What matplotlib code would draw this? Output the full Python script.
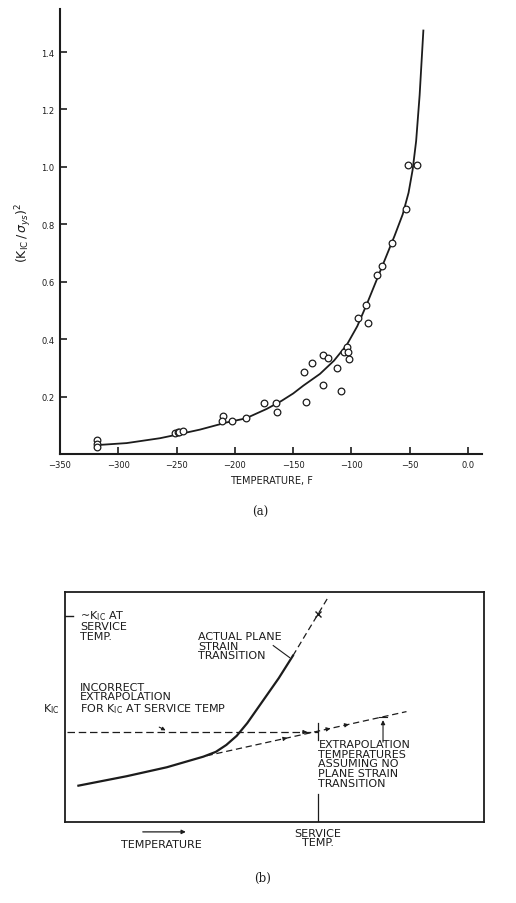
import matplotlib
matplotlib.use("Agg")
import matplotlib.pyplot as plt

plt.rcParams['mathtext.fontset'] = 'dejavusans'
ink = '#1c1c1c'

# ---- panel (a): measured points, temperature F vs (KIC/sys)^2
temp_pts = [-318.5, -318.5, -318.5, -251.3, -248.5, -247.9, -244.2,
            -209.9, -211.3, -202.7, -190.7, -175, -165, -164.1,
            -139.3, -140.7, -133.5, -124.7, -124.7, -119.8, -112.6, -109,
            -106, -104, -102.7, -102, -94, -87.5, -86,
            -78.3, -74, -65.5, -53.2, -51.5, -44]
ratio_pts = [0.049, 0.035, 0.023, 0.073, 0.075, 0.078, 0.081,
             0.131, 0.114, 0.116, 0.124, 0.177, 0.177, 0.147,
             0.182, 0.287, 0.317, 0.241, 0.345, 0.334, 0.298, 0.22,
             0.356, 0.374, 0.356, 0.331, 0.473, 0.52, 0.456,
             0.623, 0.656, 0.735, 0.853, 1.008, 1.008]

# fitted curve
temp_fit = [-318.5, -292.8, -264.2, -251.3, -229.9, -207, -190.7, -172.7,
            -160, -149.9, -141.3, -127, -115, -104, -95, -87, -79,
            -71, -63, -56, -51, -47.5, -44.5, -41.5, -38.3]
ratio_fit = [0.031, 0.038, 0.055, 0.066, 0.085, 0.110, 0.124, 0.157,
             0.185, 0.211, 0.238, 0.279, 0.325, 0.38, 0.445, 0.52, 0.6,
             0.68, 0.76, 0.835, 0.91, 0.99, 1.09, 1.25, 1.475]

xticks_a = [-350, -300, -250, -200, -150, -100, -50, 0]
xlabels_a = ['\u2212350', '\u2212300', '\u2212250', '\u2212200', '\u2212150',
             '\u2212100', '\u221250', '0.0']
yticks_a = [0.2, 0.4, 0.6, 0.8, 1.0, 1.2, 1.4]
ylabels_a = ['0.2', '0.4', '0.6', '0.8', '1.0', '1.2', '1.4']

# ---- panel (b): schematic curves (box units 0..100)
actual_u = [3.2, 14.7, 24.3, 33.0, 36.0, 38.5, 41.0, 43.5, 46.0, 48.5, 51.0, 54.4]
actual_v = [15.8, 19.9, 23.8, 28.4, 30.5, 33.5, 37.5, 43.0, 49.5, 56.0, 62.5, 72.3]
actual_ext_u = [54.4, 57.6, 60.4, 62.8]
actual_ext_v = [72.3, 82.0, 90.4, 97.7]
extrap_u = [33.8, 81.5]
extrap_v = [28.8, 48.0]
incorrect_u = [0.4, 60.4]
incorrect_v = [39.1, 39.1]
service_u = 60.4
kic_service_v = 90.4

fig = plt.figure(figsize=(5.16, 9.04), dpi=100)

# ================= (a)
ax = fig.add_axes([60 / 516, 1 - 455 / 904, 422 / 516, 445 / 904])
ax.plot(temp_fit, ratio_fit, color=ink, lw=1.3, zorder=2)
ax.plot(temp_pts, ratio_pts, 'o', ms=4.8, mfc='white', mec=ink, mew=0.9, zorder=3)
ax.set_xlim(-350, 12)
ax.set_ylim(0, 1.55)
for s in ['top', 'right']:
    ax.spines[s].set_visible(False)
for s in ['left', 'bottom']:
    ax.spines[s].set_linewidth(1.5)
    ax.spines[s].set_color(ink)
ax.set_xticks(xticks_a)
ax.set_xticklabels(xlabels_a)
ax.set_yticks(yticks_a)
ax.set_yticklabels(ylabels_a)
ax.tick_params(direction='in', length=5, width=1.2, color=ink,
               labelsize=6, labelcolor=ink, pad=4)
ax.set_xlabel('TEMPERATURE, F', fontsize=7, color=ink, labelpad=5)
ax.set_ylabel(r'$(\mathrm{K_{IC}}\,/\,\sigma_{ys})^2$', fontsize=9, color=ink, labelpad=5)
fig.text(260 / 516, 1 - 512 / 904, '(a)', ha='center', va='center',
         fontsize=8.5, family='DejaVu Serif', color=ink)

# ================= (b)
bx = fig.add_axes([65 / 516, 1 - 823 / 904, 419 / 516, 230 / 904])
bx.set_xlim(0, 100)
bx.set_ylim(0, 100)
bx.set_xticks([])
bx.set_yticks([])
for s in bx.spines.values():
    s.set_linewidth(1.3)
    s.set_color(ink)

bx.plot(actual_u, actual_v, color=ink, lw=1.6)
bx.plot(actual_ext_u, actual_ext_v, color=ink, lw=0.9, ls=(0, (5, 3)))
bx.plot(extrap_u, extrap_v, color=ink, lw=0.9, ls=(0, (5, 3)))
bx.plot(incorrect_u, incorrect_v, color=ink, lw=0.9, ls=(0, (6, 3)))
bx.plot([service_u], [kic_service_v], 'x', color=ink, ms=5, mew=1.0)
# service temperature marks
bx.plot([service_u, service_u], [0, 12], color=ink, lw=0.9)
bx.plot([service_u, service_u], [35.5, 43], color=ink, lw=0.9)
bx.plot([0, 2], [kic_service_v - 1, kic_service_v - 1], color=ink, lw=1.0)

# small arrowheads along the dashed lines
arr = dict(arrowstyle='-|>', mutation_scale=6, lw=0.7, color=ink)
slope = (extrap_v[1] - extrap_v[0]) / (extrap_u[1] - extrap_u[0])
for ua in [53.7, 64.0, 68.4]:
    va_ = extrap_v[0] + slope * (ua - extrap_u[0])
    bx.annotate('', xy=(ua, va_), xytext=(ua - 2, va_ - 2 * slope), arrowprops=arr)
bx.annotate('', xy=(58.5, 39.1), xytext=(56.0, 39.1), arrowprops=arr)

# vertical arrow to the extrapolation line
bx.annotate('', xy=(75.9, 45.5), xytext=(75.9, 33.5),
            arrowprops=dict(arrowstyle='-|>', mutation_scale=6, lw=0.8, color=ink))
bx.plot([74.9, 76.9], [45.8, 45.8], color=ink, lw=0.8)

# leaders
bx.plot([49.7, 53.6], [76.7, 71.5], color=ink, lw=0.8)
bx.annotate('', xy=(24.6, 39.3), xytext=(21.9, 41.8),
            arrowprops=dict(arrowstyle='-|>', mutation_scale=5, lw=0.8, color=ink))

tk = dict(fontsize=8, color=ink, linespacing=0.95)
bx.text(3.6, 93.0, '~' + r'$\mathrm{K_{IC}}$' + ' AT\nSERVICE\nTEMP.', va='top', ha='left', **tk)
bx.text(31.8, 83.0, 'ACTUAL PLANE\nSTRAIN\nTRANSITION', va='top', ha='left', **tk)
bx.text(3.6, 61.0, 'INCORRECT\nEXTRAPOLATION\nFOR ' + r'$\mathrm{K_{IC}}$' + ' AT SERVICE TEMP',
        va='top', ha='left', **tk)
bx.text(60.5, 36.0, 'EXTRAPOLATION\nTEMPERATURES\nASSUMING NO\nPLANE STRAIN\nTRANSITION',
        va='top', ha='left', **tk)
bx.text(-3.2, 49.6, r'$\mathrm{K_{IC}}$', ha='center', va='center', clip_on=False, **tk)
bx.text(60.4, -2.5, 'SERVICE\nTEMP.', ha='center', va='top', clip_on=False, **tk)
bx.text(23.1, -9.6, 'TEMPERATURE', ha='center', va='center', clip_on=False, **tk)
bx.annotate('', xy=(29.5, -4.3), xytext=(17.9, -4.3), annotation_clip=False,
            arrowprops=dict(arrowstyle='-|>', mutation_scale=6, lw=0.9, color=ink))

fig.text(263 / 516, 1 - 878 / 904, '(b)', ha='center', va='center',
         fontsize=8.5, family='DejaVu Serif', color=ink)

fig.savefig('out.png', dpi=100)
